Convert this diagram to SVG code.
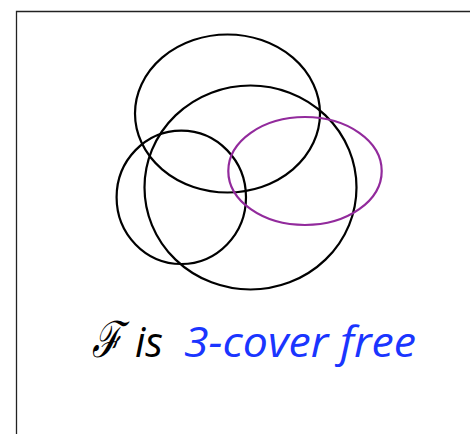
<svg xmlns="http://www.w3.org/2000/svg" width="470" height="434" viewBox="0 0 470 434">
<style>
.set{fill:none;stroke:#000;stroke-width:2.2}
.purple{fill:none;stroke:#922a9c;stroke-width:2.2}
.lbl{font-family:"Open Sans","DejaVu Sans",sans-serif;font-size:42px;font-style:italic}
</style>
<rect width="470" height="434" fill="#fff"/>
<g id="frame"><path d="M16.5 434 V11.5 H470" fill="none" stroke="#222" stroke-width="1.3"/></g>
<g id="set-top"><ellipse class="set" cx="227.5" cy="113.5" rx="92.5" ry="79"/></g>
<g id="set-large"><ellipse class="set" cx="250.5" cy="187.5" rx="106" ry="102"/></g>
<g id="set-small"><ellipse class="set" cx="181.3" cy="197.3" rx="64.7" ry="66.7"/></g>
<g id="set-purple"><ellipse class="purple" cx="305" cy="171" rx="76.7" ry="54"/></g>
<g id="caption">
<text x="92" y="357" font-family="'Liberation Serif',serif" font-style="italic" font-size="50" textLength="30" lengthAdjust="spacingAndGlyphs">ℱ</text>
<text class="lbl" x="135" y="357" textLength="28" lengthAdjust="spacingAndGlyphs">is</text>
<text class="lbl" x="184" y="357" fill="#1a35ff" textLength="232" lengthAdjust="spacingAndGlyphs">3-cover free</text>
</g>
</svg>
